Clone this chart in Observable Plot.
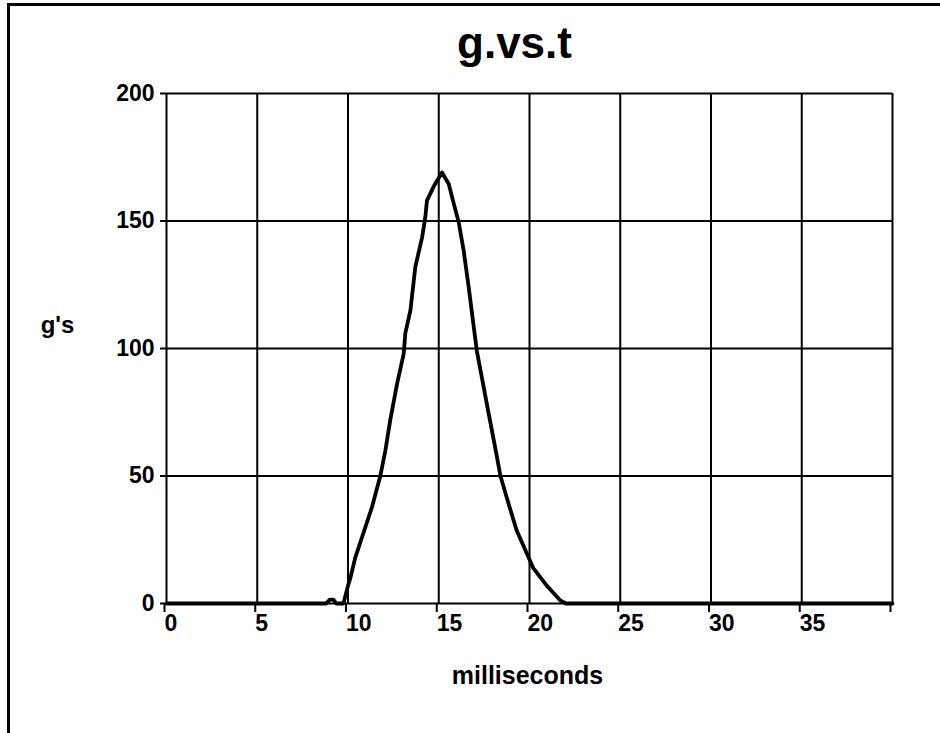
<!DOCTYPE html>
<html>
<head>
<meta charset="utf-8">
<script src="https://cdn.jsdelivr.net/npm/d3@7"></script>
<script src="https://cdn.jsdelivr.net/npm/@observablehq/plot@0.6"></script>
<style>
  html, body { margin: 0; padding: 0; background: #fff; }
  #wrap { position: relative; width: 940px; height: 733px; overflow: hidden; }
  #bl { position: absolute; left: 7px; top: 3px; width: 3px; height: 730px; background: #000; }
  #bt { position: absolute; left: 7px; top: 3px; width: 933px; height: 3px; background: #000; }
  #chart { position: absolute; left: 0; top: 0; }
</style>
</head>
<body>
<div id="wrap"><div id="chart"></div><div id="bl"></div><div id="bt"></div></div>
<script>
const titleText = "g.vs.t";
const xLabel = "milliseconds";
const yLabel = "g's";
const xTicks = [0, 5, 10, 15, 20, 25, 30, 35, 40];
const xTickLabels = ["0", "5", "10", "15", "20", "25", "30", "35", ""];
const yTicks = [0, 50, 100, 150, 200];
const tValues = [0, 8.8, 9.0, 9.2, 9.35, 9.75, 10.0, 10.13, 10.4, 10.96, 11.33, 11.78, 12.06, 12.33, 12.7, 13.07, 13.16, 13.44, 13.71, 14.08, 14.26, 14.35, 14.72, 15.18, 15.55, 15.82, 16.1, 16.37, 16.65, 17.0, 17.1, 17.38, 17.75, 18.1, 18.4, 18.85, 19.3, 19.86, 20.2, 20.95, 21.7, 22.0, 40];
const gValues = [0, 0, 1.5, 1.5, 0, 0, 7, 10, 18, 30, 38, 50, 60, 72, 86, 98, 106, 115, 132, 143.5, 151.5, 158, 163.5, 169, 164.5, 157, 149.5, 138.5, 124, 104.5, 99, 88.5, 74.5, 61.5, 50, 39, 28.5, 19.5, 14, 7, 1.2, 0, 0];

const data = tValues.map((t, i) => ({t, g: gValues[i]}));
const font = "'Liberation Sans', Arial, sans-serif";

const chart = Plot.plot({
  width: 940,
  height: 733,
  marginLeft: 166,
  marginRight: 48,
  marginTop: 93,
  marginBottom: 130,
  x: {domain: [0, 40]},
  y: {domain: [0, 200]},
  style: {fontFamily: font, fontWeight: "bold", background: "transparent", color: "#000"},
  marks: [
    Plot.gridX(xTicks, {stroke: "#000", strokeOpacity: 1, strokeWidth: 2}),
    Plot.gridY(yTicks, {stroke: "#000", strokeOpacity: 1, strokeWidth: 2}),
    Plot.axisX(xTicks, {
      tickSize: 9, tickPadding: 2, strokeWidth: 2,
      tickFormat: (d) => xTickLabels[xTicks.indexOf(d)],
      textAnchor: "start", dx: -2, fontSize: 23, fontWeight: "bold", label: null
    }),
    Plot.axisY(yTicks, {
      tickSize: 6, tickPadding: 6, strokeWidth: 2,
      fontSize: 23, fontWeight: "bold", label: null
    }),
    Plot.line(data, {x: "t", y: "g", stroke: "#000", strokeWidth: 3.8, strokeLinejoin: "round"}),
    Plot.text([titleText], {frameAnchor: "top", text: (d) => d, textAnchor: "middle", lineAnchor: "middle", dx: -15, dy: -50, fontSize: 44, fontWeight: "bold", fill: "#000"}),
    Plot.text([yLabel], {frameAnchor: "left", text: (d) => d, textAnchor: "middle", lineAnchor: "middle", dx: -109, dy: -23, fontSize: 24, fontWeight: "bold", fill: "#000"}),
    Plot.text([xLabel], {frameAnchor: "bottom", text: (d) => d, textAnchor: "middle", lineAnchor: "middle", dx: -2, dy: 72, fontSize: 25, fontWeight: "bold", fill: "#000"})
  ]
});
document.getElementById("chart").appendChild(chart);
</script>
</body>
</html>
